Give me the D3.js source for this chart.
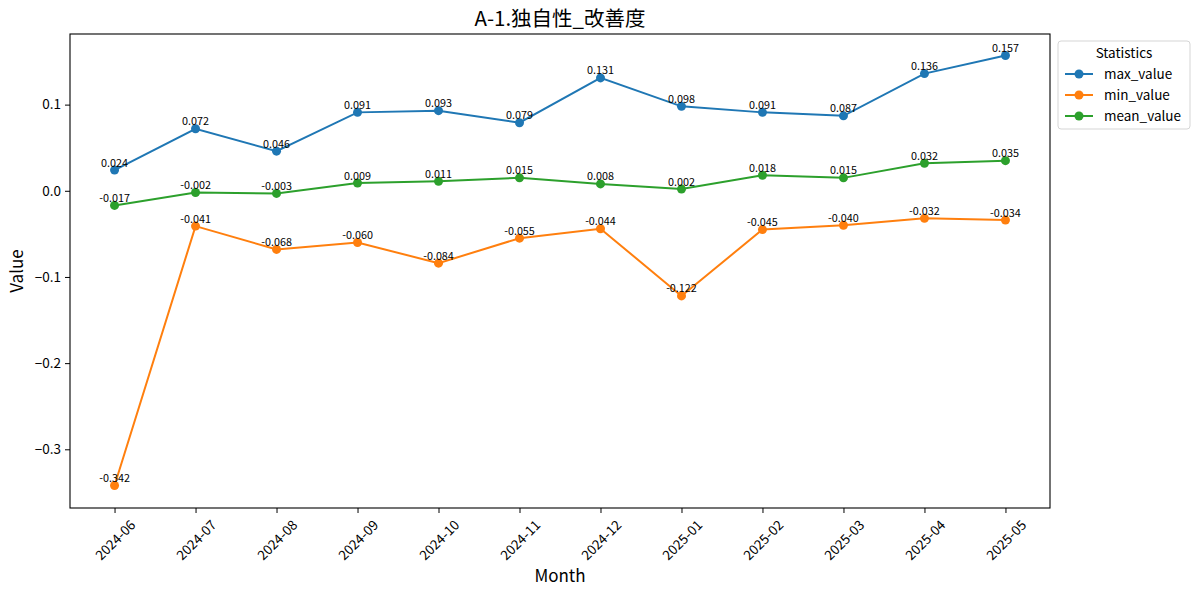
<!DOCTYPE html>
<html><head><meta charset="utf-8">
<script src="https://cdn.jsdelivr.net/npm/d3@7"></script>
<style>body{margin:0;background:#fff}svg{display:block}text{font-family:"Noto Sans CJK JP","Noto Sans CJK SC","DejaVu Sans",sans-serif;fill:#000}</style>
</head><body><svg id="c" width="1200" height="595"></svg>
<script>
const months = ["2024-06","2024-07","2024-08","2024-09","2024-10","2024-11","2024-12","2025-01","2025-02","2025-03","2025-04","2025-05"];
const maxValue = [0.024,0.072,0.046,0.091,0.093,0.079,0.131,0.098,0.091,0.087,0.136,0.157];
const minValue = [-0.342,-0.041,-0.068,-0.060,-0.084,-0.055,-0.044,-0.122,-0.045,-0.040,-0.032,-0.034];
const meanValue = [-0.017,-0.002,-0.003,0.009,0.011,0.015,0.008,0.002,0.018,0.015,0.032,0.035];
const yTicks = [-0.3,-0.2,-0.1,0.0,0.1];
const seriesNames = ["max_value","min_value","mean_value"];
const colors = ["#1f77b4","#ff7f0e","#2ca02c"];
const title = "A-1.独自性_改善度";

const svg = d3.select("#c");
const L=70,R=1050,T=34,B=508;
const allVals = maxValue.concat(minValue, meanValue);
const lo = d3.min(allVals), hi = d3.max(allVals), pad = (hi-lo)*0.05;
const y = d3.scaleLinear().domain([lo-pad, hi+pad]).range([B-1,T]);
const n = months.length;
const x = d3.scaleLinear().domain([-0.55, n-1+0.55]).range([L,R]);

// axes
const yAxis = d3.axisLeft(y).tickValues(yTicks).tickSize(5).tickPadding(4)
  .tickFormat(d => (d<0?"\u2212":"") + Math.abs(d).toFixed(1));
const gy = svg.append("g").attr("transform",`translate(${L},0)`).call(yAxis);
gy.selectAll("text").style("font-size","13.5px");
gy.select(".domain").remove();
gy.selectAll("line").attr("stroke","#000").attr("stroke-width",1);

const xAxis = d3.axisBottom(x).tickValues(d3.range(n)).tickSize(5).tickFormat("");
const gx = svg.append("g").attr("transform",`translate(0,${B})`).call(xAxis);
gx.select(".domain").remove();
gx.selectAll("line").attr("stroke","#000").attr("stroke-width",1);
months.forEach((m,i)=>{
  const t = svg.append("text").text(m).style("font-size","13.5px")
    .attr("text-anchor","middle").attr("dominant-baseline","central");
  const w = t.node().getComputedTextLength(), h = 13.5;
  const bh = (w+h)*Math.SQRT1_2;
  t.attr("transform",`translate(${x(i)},${B+9+bh/2}) rotate(-45)`);
});

svg.append("rect").attr("x",L).attr("y",T).attr("width",R-L).attr("height",B-T)
  .attr("fill","none").attr("stroke","#000").attr("stroke-width",1.1);

// series
const data = [maxValue, minValue, meanValue];
const line = d3.line().x((d,i)=>x(i)).y(d=>y(d));
data.forEach((vals,k)=>{
  svg.append("path").datum(vals).attr("d",line).attr("fill","none")
    .attr("stroke",colors[k]).attr("stroke-width",2);
  svg.append("g").selectAll("circle").data(vals).join("circle")
    .attr("cx",(d,i)=>x(i)).attr("cy",d=>y(d)).attr("r",4.5).attr("fill",colors[k]);
});
data.forEach((vals,k)=>{
  svg.append("g").selectAll("text").data(vals).join("text")
    .attr("x",(d,i)=>x(i)).attr("y",d=>y(d)-3.5).attr("text-anchor","middle")
    .style("font-size","10.8px").text(d=>d.toFixed(3));
});

// labels
svg.append("text").attr("x",(L+R)/2).attr("y",26).attr("text-anchor","middle")
  .style("font-size","20.5px").text(title);
svg.append("text").attr("x",(L+R)/2).attr("y",582).attr("text-anchor","middle")
  .style("font-size","17px").text("Month");
svg.append("text").attr("transform",`translate(23,${(T+B)/2}) rotate(-90)`).attr("text-anchor","middle")
  .style("font-size","17px").text("Value");

// legend
const lg = svg.append("g");
lg.append("rect").attr("x",1058).attr("y",41).attr("width",132).attr("height",88).attr("rx",3)
  .attr("fill","#fff").attr("stroke","#d5d5d5").attr("stroke-width",1);
lg.append("text").attr("x",1124).attr("y",58).attr("text-anchor","middle").style("font-size","13.5px").text("Statistics");
seriesNames.forEach((s,k)=>{
  const yy = 74 + k*21;
  lg.append("line").attr("x1",1065).attr("x2",1093).attr("y1",yy).attr("y2",yy)
    .attr("stroke",colors[k]).attr("stroke-width",2);
  lg.append("circle").attr("cx",1079).attr("cy",yy).attr("r",4.5).attr("fill",colors[k]);
  lg.append("text").attr("x",1104).attr("y",yy+5).style("font-size","13.5px").text(s);
});
</script></body></html>
